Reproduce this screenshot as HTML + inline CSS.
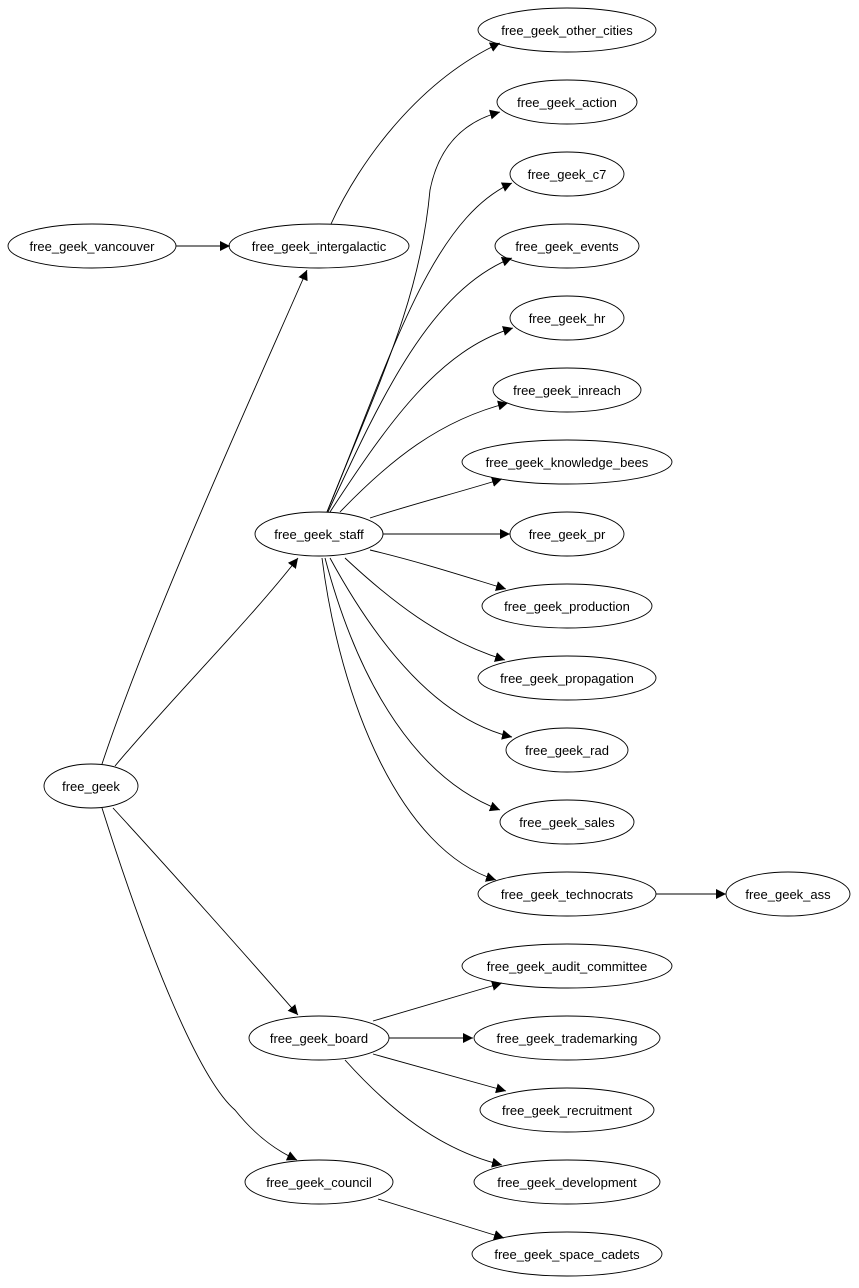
<!DOCTYPE html>
<html><head><meta charset="utf-8"><style>
html,body{margin:0;padding:0;background:#fff;}
text{font-family:"Liberation Sans",Arial,sans-serif;font-size:13px;fill:#000;}
</style></head><body>
<svg width="859" height="1283" viewBox="0 0 859 1283" xmlns="http://www.w3.org/2000/svg">
<defs><marker id="a" viewBox="0 0 10 10" refX="10" refY="5" markerWidth="10" markerHeight="10" markerUnits="userSpaceOnUse" orient="auto"><path d="M0,0 L10,5 L0,10 z" fill="#000"/></marker></defs>
<g fill="none" stroke="#000" stroke-width="0.9" marker-end="url(#a)">
<path d="M331,224 C360,160 420,80 500,43"/>
<path d="M327,512 C380,380 420,300 430,190 C440,140 470,120 500,112"/>
<path d="M327,512 C390,360 430,220 512,183"/>
<path d="M328,512 C380,400 430,290 512,258"/>
<path d="M330,512 C390,420 440,350 513,328"/>
<path d="M340,512 C390,460 440,420 508,403"/>
<path d="M370,518 C410,505 460,492 502,479"/>
<path d="M383,534 L510,534"/>
<path d="M370,550 C420,562 460,575 506,589"/>
<path d="M345,558 C390,600 440,640 505,660"/>
<path d="M330,558 C380,650 440,720 512,737"/>
<path d="M325,558 C360,690 420,780 500,810"/>
<path d="M322,558 C340,700 400,850 496,880"/>
<path d="M656,894 L726,894"/>
<path d="M176,246 L230,246"/>
<path d="M102,764 C150,620 250,400 307,270"/>
<path d="M115,766 C170,700 250,620 298,558"/>
<path d="M113,808 C170,870 250,960 298,1015"/>
<path d="M102,808 C150,960 200,1080 235,1110 C255,1135 275,1150 297,1160"/>
<path d="M373,1021 L502,983"/>
<path d="M389,1038 L473,1038"/>
<path d="M373,1054 L506,1091"/>
<path d="M345,1060 C390,1110 440,1150 502,1165"/>
<path d="M378,1199 L504,1238"/>
</g>
<g fill="none" stroke="#000" stroke-width="0.9">
<ellipse cx="567" cy="30" rx="89" ry="22"/>
<ellipse cx="567" cy="102" rx="70" ry="22"/>
<ellipse cx="567" cy="174" rx="57" ry="22"/>
<ellipse cx="567" cy="246" rx="72" ry="22"/>
<ellipse cx="567" cy="318" rx="57" ry="22"/>
<ellipse cx="567" cy="390" rx="74" ry="22"/>
<ellipse cx="567" cy="462" rx="105" ry="22"/>
<ellipse cx="567" cy="534" rx="57" ry="22"/>
<ellipse cx="567" cy="606" rx="85" ry="22"/>
<ellipse cx="567" cy="678" rx="89" ry="22"/>
<ellipse cx="567" cy="750" rx="61" ry="22"/>
<ellipse cx="567" cy="822" rx="67" ry="22"/>
<ellipse cx="567" cy="894" rx="89" ry="22"/>
<ellipse cx="788" cy="894" rx="62" ry="22"/>
<ellipse cx="567" cy="966" rx="105" ry="22"/>
<ellipse cx="567" cy="1038" rx="93" ry="22"/>
<ellipse cx="567" cy="1110" rx="87" ry="22"/>
<ellipse cx="567" cy="1182" rx="93" ry="22"/>
<ellipse cx="567" cy="1254" rx="95" ry="22"/>
<ellipse cx="92" cy="246" rx="84" ry="22"/>
<ellipse cx="319" cy="246" rx="90" ry="22"/>
<ellipse cx="319" cy="534" rx="64" ry="22"/>
<ellipse cx="91" cy="786" rx="47" ry="22"/>
<ellipse cx="319" cy="1038" rx="70" ry="22"/>
<ellipse cx="319" cy="1182" rx="74" ry="22"/>
</g>
<g text-anchor="middle">
<text x="567" y="35">free_geek_other_cities</text>
<text x="567" y="107">free_geek_action</text>
<text x="567" y="179">free_geek_c7</text>
<text x="567" y="251">free_geek_events</text>
<text x="567" y="323">free_geek_hr</text>
<text x="567" y="395">free_geek_inreach</text>
<text x="567" y="467">free_geek_knowledge_bees</text>
<text x="567" y="539">free_geek_pr</text>
<text x="567" y="611">free_geek_production</text>
<text x="567" y="683">free_geek_propagation</text>
<text x="567" y="755">free_geek_rad</text>
<text x="567" y="827">free_geek_sales</text>
<text x="567" y="899">free_geek_technocrats</text>
<text x="788" y="899">free_geek_ass</text>
<text x="567" y="971">free_geek_audit_committee</text>
<text x="567" y="1043">free_geek_trademarking</text>
<text x="567" y="1115">free_geek_recruitment</text>
<text x="567" y="1187">free_geek_development</text>
<text x="567" y="1259">free_geek_space_cadets</text>
<text x="92" y="251">free_geek_vancouver</text>
<text x="319" y="251">free_geek_intergalactic</text>
<text x="319" y="539">free_geek_staff</text>
<text x="91" y="791">free_geek</text>
<text x="319" y="1043">free_geek_board</text>
<text x="319" y="1187">free_geek_council</text>
</g>
</svg>
</body></html>
